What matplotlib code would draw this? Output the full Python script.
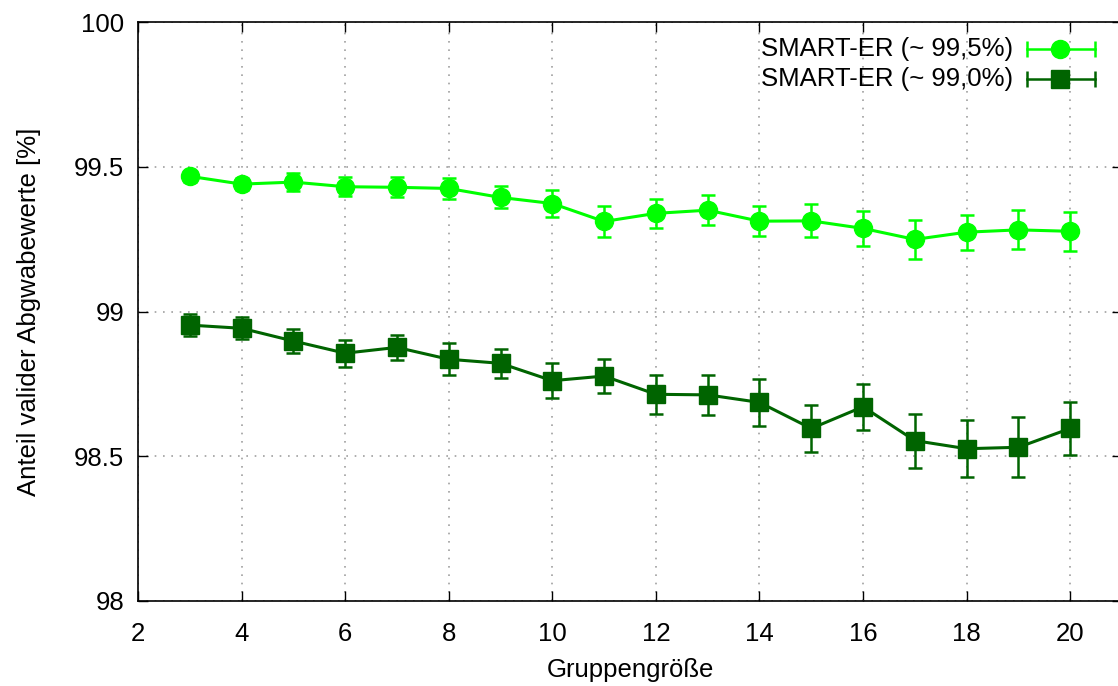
import matplotlib
matplotlib.use("Agg")
import matplotlib.pyplot as plt
from matplotlib.lines import Line2D

plt.rcParams['font.family'] = ['Liberation Sans', 'DejaVu Sans']

group_sizes = [3, 4, 5, 6, 7, 8, 9, 10, 11, 12, 13, 14, 15, 16, 17, 18, 19, 20]

er995_mean = [99.467, 99.440, 99.447, 99.431, 99.429, 99.425, 99.394, 99.373,
              99.311, 99.339, 99.350, 99.312, 99.313, 99.287, 99.249, 99.274,
              99.282, 99.277]
er995_err = [0.020, 0.020, 0.030, 0.032, 0.034, 0.035, 0.038, 0.045,
             0.053, 0.050, 0.052, 0.052, 0.057, 0.060, 0.067, 0.060,
             0.067, 0.067]

er990_mean = [98.953, 98.942, 98.898, 98.856, 98.876, 98.835, 98.821, 98.761,
              98.777, 98.714, 98.712, 98.686, 98.596, 98.671, 98.554, 98.526,
              98.531, 98.596]
er990_err = [0.038, 0.038, 0.040, 0.046, 0.043, 0.056, 0.051, 0.061,
             0.059, 0.067, 0.069, 0.080, 0.081, 0.079, 0.093, 0.099,
             0.103, 0.091]

series_labels = ["SMART-ER (~ 99,5%)", "SMART-ER (~ 99,0%)"]
x_ticks = [2, 4, 6, 8, 10, 12, 14, 16, 18, 20]
y_ticks = [98, 98.5, 99, 99.5, 100]
y_ticklabels = ["98", "98.5", "99", "99.5", "100"]

c_light = "#00ff00"
c_dark = "#006400"
fs = 18.5

W, H = 1118, 686
fig = plt.figure(figsize=(W / 100, H / 100), dpi=100)
left, right, top, bottom = 138, 1122, 22, 601
ax = fig.add_axes([left / W, 1 - bottom / H, (right - left) / W, (bottom - top) / H])

styles = [
    (er995_mean, er995_err, c_light, "o", 13),
    (er990_mean, er990_err, c_dark, "s", 12.5),
]
for mean, err, col, mk, ms in styles:
    ax.errorbar(group_sizes, mean, yerr=err, color=col, lw=2.2, marker=mk,
                ms=ms, mec=col, mfc=col, elinewidth=1.8, capsize=5,
                capthick=1.8, zorder=3)

ax.set_xlim(2, 21)
ax.set_ylim(98, 100)
ax.set_xticks(x_ticks)
ax.set_yticks(y_ticks)
ax.set_yticklabels(y_ticklabels)
ax.tick_params(direction="in", length=7, width=1, top=True, right=True,
               labelsize=fs)
ax.tick_params(axis="x", pad=15)
ax.tick_params(axis="y", pad=10)
ax.grid(True, color="#a0a0a0", linestyle=(0, (1, 4)), linewidth=1.2)
for s in ax.spines.values():
    s.set_linewidth(1.2)

ax.set_xlabel("Gruppengröße", fontsize=fs, labelpad=9)
ax.set_ylabel("Anteil valider Abgwabewerte [%]", fontsize=fs, labelpad=24)

# legend drawn as gnuplot-style keys: line with end caps and marker in the middle
rows = [0.953, 0.9016]
x0, x1, xm, xt = 0.9035, 0.9726, 0.937, 0.889
for (mean, err, col, mk, ms), lab, yy in zip(styles, series_labels, rows):
    ax.add_line(Line2D([x0, x1], [yy, yy], transform=ax.transAxes, color=col,
                       lw=1.8, clip_on=False, zorder=4))
    ax.add_line(Line2D([x0, x1], [yy, yy], transform=ax.transAxes, color=col,
                       lw=0, marker="|", ms=11, mew=1.8, clip_on=False, zorder=4))
    ax.add_line(Line2D([xm], [yy], transform=ax.transAxes, color=col, lw=0,
                       marker=mk, ms=ms, mec=col, mfc=col, clip_on=False, zorder=4))
    ax.text(xt, yy, lab, transform=ax.transAxes, ha="right", va="center",
            fontsize=fs)

fig.savefig("out.png", dpi=100)
